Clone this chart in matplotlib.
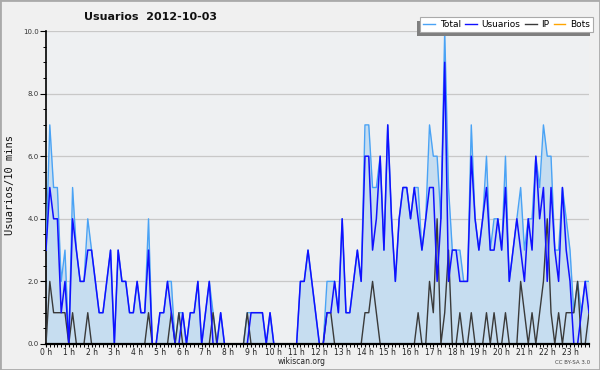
import numpy as np
import matplotlib
matplotlib.use("Agg")
import matplotlib.pyplot as plt
from matplotlib.lines import Line2D
from matplotlib.patches import Rectangle
from matplotlib.ticker import MultipleLocator

title = "Usuarios  2012-10-03"
ylabel = "Usuarios/10 mins"
hour_labels = [f"{h} h" for h in range(24)]
y_labels = ["0.0", "2.0", "4.0", "6.0", "8.0", "10.0"]
series_names = ["Total", "Usuarios", "IP", "Bots"]

usuarios = [3, 5, 4, 4, 1, 2, 0, 4, 3, 2, 2, 3, 3, 2, 1, 1, 2, 3, 0, 3, 2, 2, 1, 1,
            2, 1, 1, 3, 0, 0, 1, 1, 2, 1, 0, 0, 1, 0, 1, 1, 2, 0, 1, 2, 0, 0, 1, 0,
            0, 0, 0, 0, 0, 0, 1, 1, 1, 1, 0, 1, 0, 0, 0, 0, 0, 0, 0, 2, 2, 3, 2, 1,
            0, 0, 1, 1, 2, 1, 4, 1, 1, 2, 3, 2, 6, 6, 3, 4, 6, 3, 7, 4, 2, 4, 5, 5,
            4, 5, 4, 3, 4, 5, 5, 2, 4, 9, 2, 3, 3, 2, 2, 2, 6, 4, 3, 4, 5, 3, 3, 4,
            3, 5, 2, 3, 4, 3, 2, 4, 3, 6, 4, 5, 2, 5, 3, 2, 5, 3, 2, 0, 0, 1, 2, 1]
ip = [0, 2, 1, 1, 1, 1, 0, 1, 0, 0, 0, 1, 0, 0, 0, 0, 0, 0, 0, 0, 0, 0, 0, 0,
      0, 0, 0, 1, 0, 0, 0, 0, 0, 1, 0, 1, 0, 0, 0, 0, 0, 0, 0, 0, 1, 0, 0, 0,
      0, 0, 0, 0, 0, 1, 0, 0, 0, 0, 0, 0, 0, 0, 0, 0, 0, 0, 0, 0, 0, 0, 0, 0,
      0, 0, 1, 1, 0, 0, 0, 0, 0, 0, 0, 0, 1, 1, 2, 1, 0, 0, 0, 0, 0, 0, 0, 0,
      0, 0, 1, 0, 0, 2, 1, 4, 0, 1, 3, 0, 0, 1, 0, 0, 1, 0, 0, 0, 1, 0, 1, 0,
      0, 1, 0, 0, 0, 2, 1, 0, 1, 0, 1, 2, 4, 1, 0, 1, 0, 1, 1, 1, 2, 0, 0, 1]
total = [3, 7, 5, 5, 2, 3, 0, 5, 3, 2, 2, 4, 3, 2, 1, 1, 2, 3, 0, 3, 2, 2, 1, 1,
         2, 1, 1, 4, 0, 0, 1, 1, 2, 2, 0, 1, 1, 0, 1, 1, 2, 0, 1, 2, 1, 0, 1, 0,
         0, 0, 0, 0, 0, 1, 1, 1, 1, 1, 0, 1, 0, 0, 0, 0, 0, 0, 0, 2, 2, 3, 2, 1,
         0, 0, 2, 2, 2, 1, 4, 1, 1, 2, 3, 2, 7, 7, 5, 5, 6, 3, 7, 4, 2, 4, 5, 5,
         4, 5, 5, 3, 4, 7, 6, 6, 4, 10, 5, 3, 3, 3, 2, 2, 7, 4, 3, 4, 6, 3, 4, 4,
         3, 6, 2, 3, 4, 5, 3, 4, 4, 6, 5, 7, 6, 6, 3, 3, 5, 4, 3, 1, 2, 1, 2, 2]
bots = [0] * 144

x = np.arange(len(total)) / 6.0

fig = plt.figure(figsize=(6.0, 3.7), dpi=100, facecolor="#f0f0f0")
ax = fig.add_axes([46 / 600, 1 - 344 / 370, 543 / 600, 313 / 370])
ax.set_facecolor("#eef0f2")

c_total = "#4aa3f5"
c_fill = "#c6ddf0"
c_user = "#1010ff"
c_ip = "#3a3a3a"
c_bots = "#ffa500"

ax.fill_between(x, 0, total, color=c_fill, lw=0, zorder=1)
ax.plot(x, bots, color=c_bots, lw=1.0, zorder=2)
ax.plot(x, total, color=c_total, lw=1.0, zorder=3)
ax.plot(x, ip, color=c_ip, lw=1.0, zorder=4)
ax.plot(x, usuarios, color=c_user, lw=1.1, zorder=5)

ax.set_xlim(0, x[-1])
ax.set_ylim(0, 10)

for yv in range(2, 11, 2):
    ax.axhline(yv, color="#c8c8c8", lw=0.9, zorder=0.5)

ax.set_xticks(range(24))
ax.set_xticklabels(hour_labels)
ax.xaxis.set_minor_locator(MultipleLocator(1 / 6))
ax.set_yticks(range(0, 11, 2))
ax.set_yticklabels(y_labels)
ax.yaxis.set_minor_locator(MultipleLocator(0.5))

ax.tick_params(axis="x", which="major", length=2.4, width=0.8, pad=0.6,
               labelsize=5.5, labelcolor="#222222", direction="out")
ax.tick_params(axis="x", which="minor", length=1.8, width=0.7, direction="out")
ax.tick_params(axis="y", which="major", length=4, width=0.8, pad=1,
               labelsize=5, labelcolor="#333333", direction="out")
ax.tick_params(axis="y", which="minor", length=2.4, width=0.7, direction="out")

for s in ["top", "right"]:
    ax.spines[s].set_visible(False)
ax.spines["bottom"].set_linewidth(1.6)
ax.spines["left"].set_linewidth(1.2)
ax.spines["bottom"].set_zorder(10)

fig.text(10 / 600, 1 - 185 / 370, ylabel, rotation=90, ha="center", va="center",
         family="DejaVu Sans Mono", fontsize=7.5, color="#111111")
fig.text(151 / 600, 1 - 17 / 370, title, ha="center", va="center",
         fontsize=8, fontweight="bold", color="#111111")
fig.text(302 / 600, 1 - 362 / 370, "wikiscan.org", ha="center", va="center",
         fontsize=5.5, color="#222222")
fig.text(590 / 600, 1 - 363 / 370, "CC BY-SA 3.0", ha="right", va="center",
         fontsize=4, color="#444444")

handles = [Line2D([], [], color=c_total, lw=1.0),
           Line2D([], [], color=c_user, lw=1.0),
           Line2D([], [], color=c_ip, lw=1.0),
           Line2D([], [], color=c_bots, lw=1.0)]
leg = fig.legend(handles, series_names, loc="upper right",
                 bbox_to_anchor=(593 / 600, 1 - 17 / 370), ncol=4,
                 fontsize=6.5, frameon=True, fancybox=False, borderaxespad=0,
                 borderpad=0.35, handlelength=1.3, handletextpad=0.5,
                 columnspacing=0.5)
leg.get_frame().set_facecolor("white")
leg.get_frame().set_edgecolor("#aaaaaa")
leg.get_frame().set_linewidth(0.8)
leg.get_frame().set_alpha(1)
leg.set_zorder(20)

fig.canvas.draw()
bb = leg.get_window_extent()
shadow = Rectangle((bb.x0 - 3, bb.y0 - 4), bb.width, bb.height,
                   transform=None, facecolor="#7f7f7f", edgecolor="none", zorder=19)
fig.patches.append(shadow)

border = Rectangle((0, 0), 1, 1, transform=fig.transFigure, fill=False,
                   edgecolor="#aaaaaa", lw=2, zorder=30)
fig.patches.append(border)

fig.savefig("out.png", dpi=100, facecolor=fig.get_facecolor())
